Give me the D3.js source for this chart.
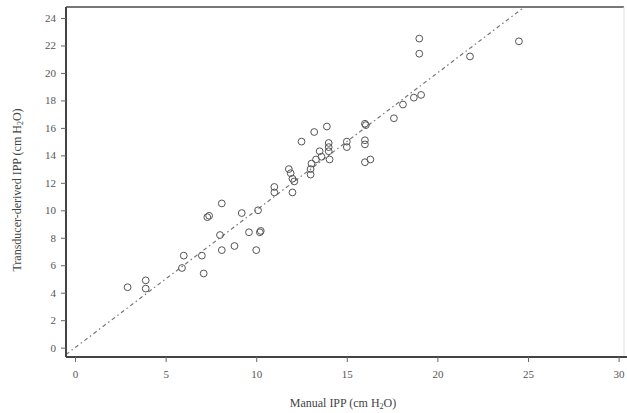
<!DOCTYPE html>
<html><head><meta charset="utf-8">
<script src="https://cdn.jsdelivr.net/npm/d3@7"></script>
<style>body{margin:0;background:#fff}svg{display:block}</style>
</head><body>
<script>
const manualIPP = [2.9,3.9,3.9,6.0,5.9,7.0,7.1,7.3,7.4,8.1,9.2,10.1,8.0,8.1,8.8,9.6,10.2,10.25,10.0,11.0,11.0,11.8,11.9,12.0,12.1,12.0,12.5,13.2,13.9,13.0,13.0,13.05,13.3,13.6,13.5,14.0,14.0,14.0,14.05,15.0,15.0,16.0,16.05,16.0,16.0,16.0,16.3,17.6,18.1,18.7,19.1,19.0,19.0,21.8,24.5];
const transducerIPP = [4.4,4.9,4.3,6.7,5.8,6.7,5.4,9.5,9.6,10.5,9.8,10.0,8.2,7.1,7.4,8.4,8.4,8.5,7.1,11.7,11.3,13.0,12.7,12.3,12.1,11.3,15.0,15.7,16.1,13.0,12.6,13.4,13.7,13.9,14.3,14.9,14.6,14.3,13.7,15.0,14.6,16.3,16.2,15.1,14.8,13.5,13.7,16.7,17.7,18.2,18.4,22.5,21.4,21.2,22.3];
const xTicks = [0,5,10,15,20,25,30];
const yTicks = [0,2,4,6,8,10,12,14,16,18,20,22,24];
const xDomain = [-0.5, 30.3];
const yDomain = [-0.68, 24.8];
const identityLine = [-0.5, 24.8];

const W = 627, H = 413;
const m = {left:66, top:7, right:3, bottom:56};
const svg = d3.select("body").append("svg").attr("width",W).attr("height",H);
const x = d3.scaleLinear().domain(xDomain).range([m.left, W-m.right]);
const y = d3.scaleLinear().domain(yDomain).range([H-m.bottom, m.top]);
const font = "'Liberation Serif', 'Times New Roman', serif";

// frame top/right
svg.append("line").attr("x1",m.left).attr("x2",W-m.right).attr("y1",m.top).attr("y2",m.top)
  .attr("stroke","#777").attr("stroke-width",2);
svg.append("line").attr("x1",W-m.right).attr("x2",W-m.right).attr("y1",m.top).attr("y2",H-m.bottom)
  .attr("stroke","#ddd").attr("stroke-width",1);

// identity line
svg.append("line")
  .attr("x1",x(identityLine[0])).attr("y1",y(identityLine[0]))
  .attr("x2",x(identityLine[1])).attr("y2",y(identityLine[1]))
  .attr("stroke","#777").attr("stroke-width",1.2).attr("stroke-dasharray","4,3,1.5,3");

// points
svg.append("g").selectAll("circle").data(manualIPP.map((v,i)=>[v,transducerIPP[i]])).join("circle")
  .attr("cx",d=>x(d[0])).attr("cy",d=>y(d[1])).attr("r",3.4)
  .attr("fill","none").attr("stroke","#555").attr("stroke-width",1);

// axes
const xAxis = svg.append("g").attr("transform",`translate(0,${H-m.bottom})`)
  .call(d3.axisBottom(x).tickValues(xTicks).tickSize(5).tickPadding(8).tickSizeOuter(0));
const yAxis = svg.append("g").attr("transform",`translate(${m.left},0)`)
  .call(d3.axisLeft(y).tickValues(yTicks).tickSize(5).tickPadding(5).tickSizeOuter(0));
[xAxis,yAxis].forEach(g=>{
  g.select(".domain").attr("stroke","#444").attr("stroke-width",2);
  g.selectAll(".tick line").attr("stroke","#666");
  g.selectAll(".tick text").attr("fill","#555").style("font-family",font).style("font-size","11px");
});
yAxis.select(".domain").attr("d",`M0,${m.top}V${H-m.bottom}`);
xAxis.select(".domain").attr("d",`M${m.left},0H${W}`);

// axis titles
const xt = svg.append("text").attr("x",343).attr("y",407).attr("text-anchor","middle")
  .attr("fill","#444").style("font-family",font).style("font-size","12px");
xt.append("tspan").text("Manual IPP (cm H");
xt.append("tspan").text("2").style("font-size","8px").attr("dy",2);
xt.append("tspan").text("O)").attr("dy",-2);

const yt = svg.append("text").attr("transform","translate(21,190) rotate(-90)").attr("text-anchor","middle")
  .attr("fill","#444").style("font-family",font).style("font-size","12px");
yt.append("tspan").text("Transducer-derived IPP (cm H");
yt.append("tspan").text("2").style("font-size","8px").attr("dy",2);
yt.append("tspan").text("O)").attr("dy",-2);
</script>
</body></html>
